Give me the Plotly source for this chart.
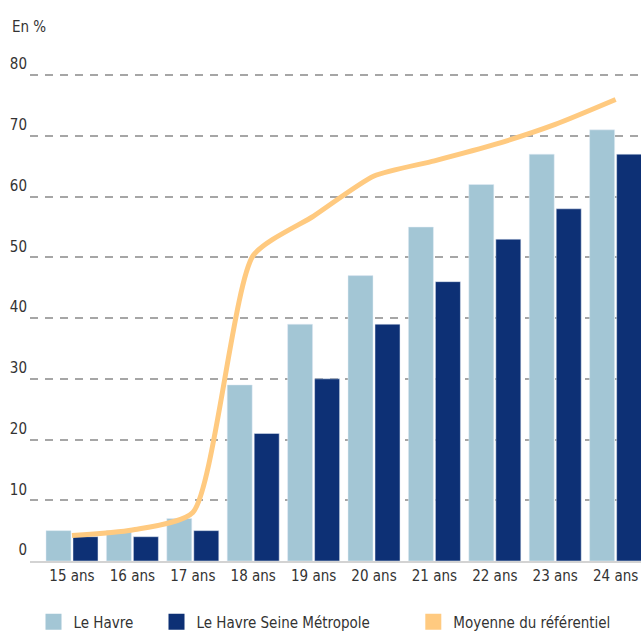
import plotly.graph_objects as go

categories = ["15 ans", "16 ans", "17 ans", "18 ans", "19 ans", "20 ans", "21 ans", "22 ans", "23 ans", "24 ans"]
le_havre = [5, 5, 7, 29, 39, 47, 55, 62, 67, 71]
lhsm = [4, 4, 5, 21, 30, 39, 46, 53, 58, 67]
moyenne = [4.2, 5.1, 8.0, 50.3, 56.8, 63.4, 65.9, 68.6, 71.9, 76.0]
y_ticks = [0, 10, 20, 30, 40, 50, 60, 70, 80]

names = ["Le Havre", "Le Havre Seine Métropole", "Moyenne du référentiel"]
C_LIGHT = "#a3c6d5"
C_DARK = "#0d3075"
C_ORANGE = "#ffca80"
FONT = "DejaVu Sans Condensed, Liberation Sans Narrow, Arial Narrow, sans-serif"
TXT = "#333333"
FS = 15

W, H = 641, 633
xs = list(range(len(categories)))

fig = go.Figure()
fig.add_trace(go.Bar(x=xs, y=le_havre, name=names[0], marker_color=C_LIGHT, showlegend=False))
fig.add_trace(go.Bar(x=xs, y=lhsm, name=names[1], marker_color=C_DARK, showlegend=False))
fig.add_trace(go.Scatter(x=xs, y=moyenne, name=names[2], mode="lines",
                         line=dict(color=C_ORANGE, width=5, shape="spline", smoothing=0.6),
                         showlegend=False))

# legend-only entries (square swatches)
legend_cols = [C_LIGHT, C_DARK, C_ORANGE]
legend_ids = ["legend", "legend2", "legend3"]
for nm, col, lg in zip(names, legend_cols, legend_ids):
    fig.add_trace(go.Scatter(x=[None], y=[None], mode="markers", name=nm,
                             marker=dict(symbol="square", size=16, color=col),
                             showlegend=True, legend=lg))

sq_centers = [53.5, 176.5, 433.3]
leg_common = dict(xref="container", yref="container", xanchor="left", yanchor="middle",
                  font=dict(family=FONT, size=FS, color=TXT), bgcolor="rgba(0,0,0,0)",
                  borderwidth=0, orientation="h")
legs = {}
for lg, cx in zip(legend_ids, sq_centers):
    legs[lg] = dict(leg_common, x=(cx - 20) / W, y=1 - 622 / H)

fig.update_layout(
    width=W, height=H,
    margin=dict(l=30, r=0, t=74, b=72, pad=0),
    paper_bgcolor="white", plot_bgcolor="white",
    barmode="group", bargap=0.106, bargroupgap=0.074,
    font=dict(family=FONT, size=FS, color=TXT),
    title=dict(text="En %", xref="container", yref="container", x=12 / W, y=1 - 26.5 / H,
               xanchor="left", yanchor="middle", pad=dict(l=0, r=0, t=0, b=0),
               font=dict(family=FONT, size=FS, color=TXT)),
    xaxis=dict(range=[-0.695, 9.42], tickmode="array", tickvals=xs, ticktext=categories,
               showgrid=False, showline=True, linecolor="#d3d3d3", linewidth=2,
               ticks="", zeroline=False, automargin=False,
               tickfont=dict(family=FONT, size=FS, color=TXT)),
    yaxis=dict(range=[0, 80.2], tickmode="array", tickvals=y_ticks, ticks="",
               showgrid=True, gridcolor="#a6a6a6", gridwidth=1.5, griddash="8px,7px",
               zeroline=False, showline=False, ticklabelshift=-11, ticklabelstandoff=2,
               automargin=False,
               tickfont=dict(family=FONT, size=FS, color=TXT)),
    **legs,
)

fig.write_html("out.html", config={"displayModeBar": False},
               post_script="document.body.style.margin='0';document.body.style.overflow='hidden';")
